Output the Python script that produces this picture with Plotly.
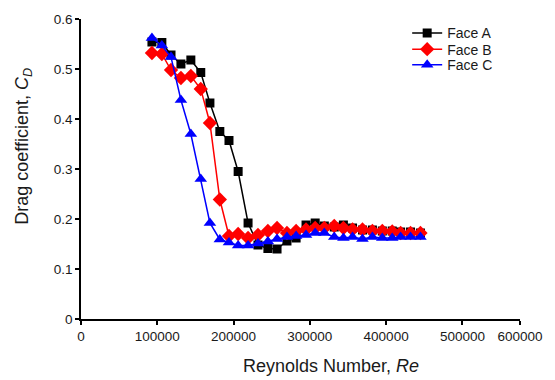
import plotly.graph_objects as go

# Reynolds numbers of the test points (shared by all three faces)
reynolds = [93000, 106000, 118000, 131000, 144000, 157000, 169000, 182000,
            194000, 206000, 219000, 232000, 245000, 257000, 270000, 282000,
            295000, 307000, 319000, 332000, 344000, 356000, 369000, 382000,
            395000, 408000, 419000, 432000, 445000]

# Drag coefficient for each face
cd_face_a = [0.554, 0.553, 0.528, 0.510, 0.518, 0.493, 0.432, 0.375, 0.357,
             0.295, 0.192, 0.148, 0.141, 0.140, 0.156, 0.162, 0.188, 0.192,
             0.186, 0.184, 0.188, 0.182, 0.178, 0.178, 0.176, 0.176, 0.174,
             0.174, 0.172]
cd_face_b = [0.532, 0.530, 0.498, 0.482, 0.486, 0.460, 0.392, 0.239, 0.166,
             0.170, 0.162, 0.168, 0.176, 0.182, 0.172, 0.176, 0.179, 0.182,
             0.182, 0.186, 0.182, 0.179, 0.179, 0.176, 0.176, 0.175, 0.172,
             0.172, 0.172]
cd_face_c = [0.562, 0.547, 0.524, 0.438, 0.370, 0.280, 0.192, 0.159, 0.153,
             0.147, 0.147, 0.151, 0.155, 0.160, 0.164, 0.166, 0.168, 0.172,
             0.172, 0.164, 0.162, 0.164, 0.160, 0.164, 0.162, 0.162, 0.164,
             0.164, 0.164]

series_names = ["Face A", "Face B", "Face C"]

x_tick_values = [0, 100000, 200000, 300000, 400000, 500000, 575500]
x_tick_labels = ["0", "100000", "200000", "300000", "400000", "500000", "600000"]
y_tick_values = [0, 0.1, 0.2, 0.3, 0.4, 0.5, 0.6]
y_tick_labels = ["0", "0.1", "0.2", "0.3", "0.4", "0.5", "0.6"]

FONT = "Liberation Sans, Arial, sans-serif"
TEXT = "#1a1a1a"

styles = [
    dict(color="#000000", symbol="square", size=9),
    dict(color="#ff0000", symbol="diamond", size=11),
    dict(color="#0000ff", symbol="triangle-up", size=11),
]

# one legend box per series so the rows can sit tightly stacked
legend_ids = ["legend", "legend2", "legend3"]
legend_rows_y = [0.952, 0.898, 0.846]

fig = go.Figure()
for name, ys, st, lid in zip(series_names, [cd_face_a, cd_face_b, cd_face_c],
                             styles, legend_ids):
    fig.add_trace(go.Scatter(
        x=reynolds, y=ys, name=name, mode="lines+markers", legend=lid,
        line=dict(color=st["color"], width=1.5),
        marker=dict(color=st["color"], symbol=st["symbol"], size=st["size"],
                    line=dict(width=0)),
    ))

axis_common = dict(
    showline=True, linecolor="#000000", linewidth=1.5,
    ticks="outside", ticklen=4, tickwidth=1.5, tickcolor="#000000",
    showgrid=False, zeroline=False,
    tickfont=dict(family=FONT, size=13.5, color=TEXT),
)

legend_boxes = {
    lid: dict(
        x=0.743, y=ly, xanchor="left", yanchor="middle",
        bgcolor="rgba(0,0,0,0)", itemwidth=30,
        font=dict(family=FONT, size=14, color=TEXT),
    )
    for lid, ly in zip(legend_ids, legend_rows_y)
}

fig.update_layout(
    width=555, height=380,
    margin=dict(l=81, r=28, t=15, b=61),
    paper_bgcolor="white", plot_bgcolor="white",
    showlegend=True,
    xaxis=dict(range=[0, 575500], tickvals=x_tick_values, ticktext=x_tick_labels,
               **axis_common),
    yaxis=dict(range=[0, 0.6], tickvals=y_tick_values, ticktext=y_tick_labels,
               **axis_common),
    annotations=[
        dict(text="Reynolds Number, <i>Re</i>", xref="paper", yref="paper",
             x=0.569, y=-0.158, xanchor="center", yanchor="middle",
             showarrow=False, font=dict(family=FONT, size=18, color=TEXT)),
        dict(text="Drag coefficient, <i>C<sub>D</sub></i>", xref="paper",
             yref="paper", x=-0.130, y=0.577, xanchor="center", yanchor="middle",
             textangle=-90, showarrow=False,
             font=dict(family=FONT, size=18, color=TEXT)),
    ],
    **legend_boxes,
)

fig.write_html("out.html")
